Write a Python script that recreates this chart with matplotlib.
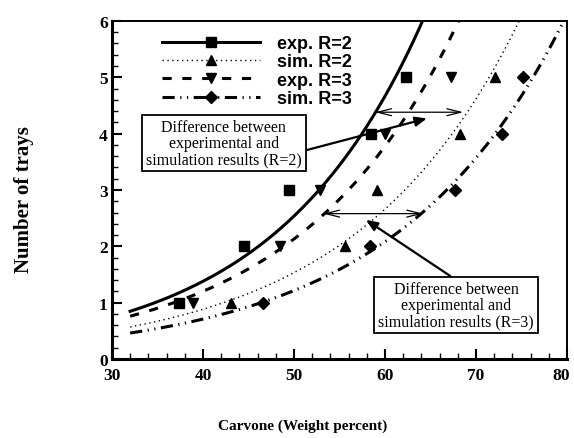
import matplotlib.pyplot as plt
from matplotlib.ticker import MultipleLocator
import matplotlib.transforms as mtransforms
import numpy as np

# Points (carvone wt%, number of trays)
exp_r2_x = [37.4, 44.5, 49.5, 58.5, 62.3]
exp_r2_y = [1, 2, 3, 4, 5]
sim_r2_x = [43.1, 55.6, 59.1, 68.2, 72.1]
sim_r2_y = [1, 2, 3, 4, 5]
exp_r3_x = [38.9, 48.5, 52.9, 60.0, 67.3]
exp_r3_y = [1, 2, 3, 4, 5]
sim_r3_x = [46.6, 58.4, 67.7, 72.9, 75.2]
sim_r3_y = [1, 2, 3, 4, 5]

labels = ['exp. R=2', 'sim. R=2', 'exp. R=3', 'sim. R=3']

serif = 'Liberation Serif'
sans = 'Liberation Sans'

fig = plt.figure(figsize=(5.74, 4.39), dpi=100)
ax = fig.add_axes([0.195, 0.18, 0.793, 0.77])

x_fit = np.linspace(32, 80, 300)

series = [
    (exp_r2_x, exp_r2_y, 's', '-', 2.2),
    (sim_r2_x, sim_r2_y, '^', (0, (1, 2.5)), 1.0),
    (exp_r3_x, exp_r3_y, 'v', (0, (3, 3.5)), 2.2),
    (sim_r3_x, sim_r3_y, 'D', (0, (4, 1.8, 0.4, 1.8, 0.4, 1.8)), 2.2),
]

handles = []
for (xs, ys, mk, ls, lw), lab in zip(series, labels):
    # exponential trend line fitted to the points
    b, ln_a = np.polyfit(xs, np.log(ys), 1)
    ax.plot(x_fit, np.exp(ln_a) * np.exp(b * x_fit), color='black',
            linestyle=ls, linewidth=lw)
    ax.plot(xs, ys, linestyle='none', marker=mk, color='black',
            markersize=7.5 if mk != 'D' else 6.5)
    h, = ax.plot([], [], color='black', linestyle=ls, linewidth=lw,
                 marker=mk, markersize=7.5 if mk != 'D' else 6.5, label=lab)
    handles.append(h)

ax.set_xlim(30, 80)
ax.set_ylim(0, 6)
ax.xaxis.set_major_locator(MultipleLocator(10))
ax.xaxis.set_minor_locator(MultipleLocator(2))
ax.yaxis.set_major_locator(MultipleLocator(1))
ax.yaxis.set_minor_locator(MultipleLocator(0.2))
ax.tick_params(which='both', direction='in', top=False, right=False)
ax.tick_params(which='major', length=7, width=1.5)
ax.tick_params(which='minor', length=4, width=1.0)
ax.tick_params(axis='x', which='major', pad=6)
ax.tick_params(axis='y', which='major', pad=3)
for side in ['left', 'bottom']:
    ax.spines[side].set_linewidth(2.2)
for side in ['top', 'right']:
    ax.spines[side].set_linewidth(1.4)

ax.set_xlabel('Carvone (Weight percent)', fontfamily=serif,
              fontweight='bold', fontsize=11)
ax.xaxis.set_label_coords(0.42, -0.175)
ax.set_ylabel('Number of trays', fontfamily=serif,
              fontweight='bold', fontsize=15)
ax.yaxis.set_label_coords(-0.172, 0.476)

leg = ax.legend(handles=handles, loc='upper left',
                bbox_to_anchor=(0.11, 0.958), frameon=False, numpoints=1,
                handlelength=5.4, handletextpad=0.95, labelspacing=0.07,
                borderaxespad=0, borderpad=0,
                prop={'family': sans, 'weight': 'bold', 'size': 13})

# double-headed difference arrows
ax.annotate('', xy=(58.9, 4.38), xytext=(68.6, 4.38),
            arrowprops=dict(arrowstyle='<->,head_length=1.0,head_width=0.25',
                            lw=0.9, color='black', shrinkA=0, shrinkB=0))
ax.annotate('', xy=(53.2, 2.58), xytext=(64.2, 2.58),
            arrowprops=dict(arrowstyle='<->,head_length=1.0,head_width=0.25',
                            lw=0.9, color='black', shrinkA=0, shrinkB=0))

box = dict(boxstyle='square,pad=0.26', facecolor='white',
           edgecolor='black', linewidth=1.3)
ax.annotate('Difference between\nexperimental and\nsimulation results (R=2)',
            xy=(64.6, 4.27), xytext=(42.3, 3.83), textcoords='data',
            ha='center', va='center', fontfamily=serif, fontsize=11.5,
            linespacing=1.0, bbox=box,
            arrowprops=dict(arrowstyle='-|>,head_length=0.6,head_width=0.25',
                            lw=1.6, color='black', relpos=(1.0, 0.33),
                            shrinkA=0, shrinkB=0))
ax.annotate('Difference between\nexperimental and\nsimulation results (R=3)',
            xy=(57.9, 2.47), xytext=(67.8, 0.96), textcoords='data',
            ha='center', va='center', fontfamily=serif, fontsize=11.5,
            linespacing=1.0, bbox=box,
            arrowprops=dict(arrowstyle='-|>,head_length=0.6,head_width=0.25',
                            lw=1.6, color='black', relpos=(0.51, 1.0),
                            shrinkA=0, shrinkB=0))

# style tick labels after a draw so the final tick objects are used
fig.canvas.draw()
for tick in ax.xaxis.get_major_ticks() + ax.yaxis.get_major_ticks():
    tick.label1.set_fontfamily(serif)
    tick.label1.set_fontweight('bold')
    tick.label1.set_fontsize(12.5)
    # the "80" label sits a little to the left so it stays inside the figure
    if tick.label1.get_text() == '80':
        tick.label1.set_transform(tick.label1.get_transform() +
                                  mtransforms.ScaledTranslation(-0.06, 0, fig.dpi_scale_trans))

fig.savefig('out.png', dpi=100)
